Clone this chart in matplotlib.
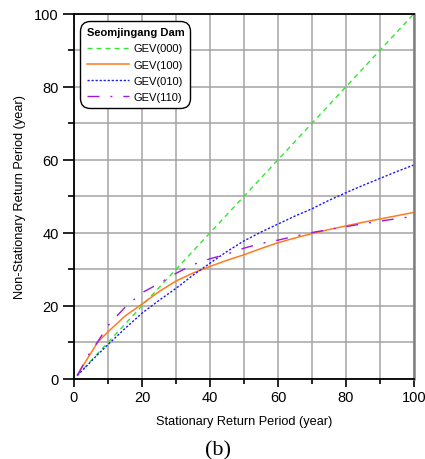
import matplotlib
matplotlib.use("Agg")
import matplotlib.pyplot as plt
from matplotlib.ticker import MultipleLocator

plt.rcParams['font.family'] = ['Liberation Sans', 'DejaVu Sans']
plt.rcParams['lines.scale_dashes'] = False

# Stationary return period (year)
T_stat = [1, 2, 4, 7, 10, 15, 20, 25, 30, 35, 40, 45, 50, 55, 60, 65, 70, 75, 80, 85, 90, 95, 100]

# Non-stationary return period for each model
gev000 = [1, 2, 4, 7, 10, 15, 20, 25, 30, 35, 40, 45, 50, 55, 60, 65, 70, 75, 80, 85, 90, 95, 100]
gev100 = [1, 2.7, 5.6, 10.1, 12.9, 17.2, 20.5, 23.9, 26.8, 29.0, 30.8, 32.5, 34.0, 35.7, 37.3,
          38.6, 39.8, 40.9, 41.9, 42.9, 43.8, 44.7, 45.6]
gev010 = [1, 1.9, 3.8, 6.7, 9.4, 13.8, 18.0, 21.5, 24.8, 28.4, 31.7, 34.9, 37.8, 40.2, 42.4,
          44.6, 46.6, 48.9, 51.0, 53.0, 54.9, 56.8, 58.6]
gev110 = [1, 2.6, 6.2, 10.2, 14.6, 19.6, 23.6, 26.1, 28.9, 31.3, 32.9, 34.2, 35.8, 37.1, 38.0,
          39.1, 40.1, 40.9, 41.7, 42.5, 43.2, 43.9, 44.5]

fig = plt.figure(figsize=(4.25, 4.6), dpi=100)
ax = fig.add_axes([0.174, 0.174, 0.80, 0.794])

ax.plot(T_stat, gev000, color='#33e633', lw=1.0, dashes=(3.6, 2.9), label='GEV(000)')
ax.plot(T_stat, gev100, color='#ff7b1c', lw=1.1, label='GEV(100)')
ax.plot(T_stat, gev010, color='#1a1aff', lw=1.0, dashes=(1.6, 1.3), label='GEV(010)')
ax.plot(T_stat, gev110, color='#9a1ae0', lw=1.0, dashes=(8.6, 7.9, 1.4, 7.9), label='GEV(110)')

ax.set_xlim(0, 100)
ax.set_ylim(0, 100)
ax.xaxis.set_major_locator(MultipleLocator(20))
ax.xaxis.set_minor_locator(MultipleLocator(10))
ax.yaxis.set_major_locator(MultipleLocator(20))
ax.yaxis.set_minor_locator(MultipleLocator(10))
ax.grid(True, which='both', color='#a4a4a4', lw=1.1)
ax.set_axisbelow(True)

ax.tick_params(which='both', direction='out', width=1.2, labelsize=10.5)
ax.tick_params(axis='x', which='major', length=6, pad=2)
ax.tick_params(axis='x', which='minor', length=3.5)
ax.tick_params(axis='y', which='major', length=8, pad=3)
ax.tick_params(axis='y', which='minor', length=4)

for side in ['left', 'bottom', 'top']:
    ax.spines[side].set_linewidth(1.3)
    ax.spines[side].set_color('black')
ax.spines['right'].set_linewidth(1.8)
ax.spines['right'].set_color('#808080')

ax.set_xlabel('Stationary Return Period (year)', fontsize=9.2, labelpad=8)
ax.set_ylabel('Non-Stationary Return Period (year)', fontsize=9.2, labelpad=6)

leg = ax.legend(loc='upper left', bbox_to_anchor=(0.024, 0.975), borderaxespad=0,
                title='Seomjingang Dam', title_fontproperties={'weight': 'bold', 'size': 8},
                fontsize=8, handlelength=3.8, handletextpad=0.45, labelspacing=0.55,
                alignment='left', fancybox=True, framealpha=1, borderpad=0.4)
leg.get_frame().set_edgecolor('black')
leg.get_frame().set_linewidth(1.0)
leg.get_frame().set_boxstyle('round,pad=0.15,rounding_size=0.9')

fig.text(0.512, 0.02, '(b)', fontsize=16, family='Liberation Serif', ha='center', va='center')

fig.savefig('out.png', dpi=100)
